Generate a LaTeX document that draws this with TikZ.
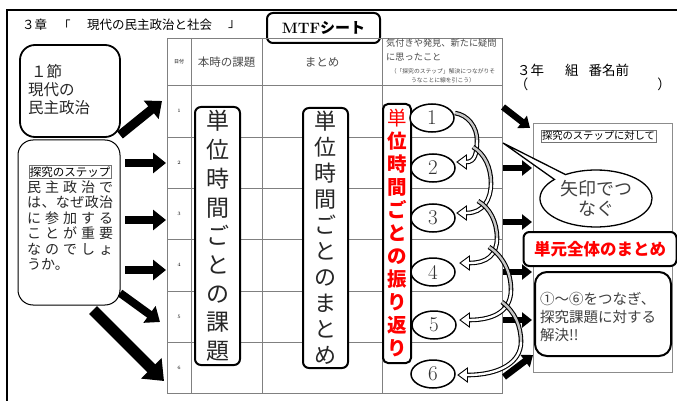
\documentclass[tikz,border=0pt]{standalone}
\usepackage{fontspec}
\newfontfamily\jp{Noto Sans CJK JP}
\usetikzlibrary{arrows.meta,shapes.geometric,shapes.callouts,calc}
\newcommand\ribbonarrow[7]{%
  \fill[white,draw=black,line width=0.9pt] (#7) -- ++(9.5,-7) -- ++(0,14) -- cycle;
  \draw[line width=4.6pt] (#1) .. controls (#2) and (#3) .. (#4) .. controls (#5) and (#6) .. ($(#7)+(9.5,0)$);
  \draw[line width=2.4pt, black!22] (#1) .. controls (#2) and (#3) .. (#4);
  \draw[line width=2.4pt, white] (#4) .. controls (#5) and (#6) .. ($(#7)+(9.5,0)$) -- ($(#7)+(6.5,0)$);
}
\begin{document}
\begin{tikzpicture}[x=1pt,y=-1pt,
  grid/.style={draw=black!50, line width=0.6pt},
  bigarrow/.style={line width=8pt, -{Triangle[length=13pt,width=20pt]}},
  smallarrow/.style={line width=6.5pt, -{Triangle[length=10pt,width=15pt]}},
  tallbox/.style={draw, line width=2pt, rounded corners=6pt, fill=white, inner sep=1pt, align=center},
  numell/.style={ellipse, draw, line width=1.5pt, fill=white, minimum width=44pt, minimum height=28pt, inner sep=0pt, font=\fontsize{21}{21}\selectfont, text=black!80},
  hdr/.style={font=\jp\fontsize{11.5}{13}\selectfont, text=black!70},
  datenum/.style={font=\fontsize{5}{6}\selectfont},
  tagbox/.style={draw=black!55, line width=0.5pt, inner sep=1pt},
  bodyline/.style={anchor=west, inner sep=0pt, font=\jp\fontsize{14}{16}\selectfont, text=black!85}
]
\useasboundingbox (0,0) rectangle (677,401);
\fill[white] (0,0) rectangle (677,401);

% outer frame
\draw[line width=2pt] (7,401) -- (7,10) -- (677,10);

% title
\node[anchor=west, inner sep=0pt, font=\jp\fontsize{12.5}{14}\selectfont] (t1) at (22,25) {３章};
\node[anchor=west, inner sep=0pt, font=\jp\fontsize{12.5}{14}\selectfont] (t2) at (58,25) {「};
\node[anchor=west, inner sep=0pt, font=\jp\fontsize{12.5}{14}\selectfont] (t3) at (87,25) {現代の民主政治と社会};
\node[anchor=west, inner sep=0pt, font=\jp\fontsize{12.5}{14}\selectfont] (t4) at (228,25) {」};

% MTF box
\node[draw, line width=2pt, rounded corners=6pt, fill=white, minimum width=113pt, minimum height=30pt] (mtf) at (323.5,28) {{\fontsize{15}{16}\selectfont\bfseries MTF}{\jp\bfseries\fontsize{15}{16}\selectfont シート}};

% table
\draw[grid] (167,38) rectangle (502,393);
\foreach \xx in {191,262,382} \draw[grid] (\xx,38) -- (\xx,393);
\foreach \yy in {85,137,188,239,291,342} \draw[grid] (167,\yy) -- (502,\yy);

\node[font=\jp\fontsize{5}{6}\selectfont] (hdate) at (179,62) {日付};
\node[hdr] (hkadai) at (226.5,62) {本時の課題};
\node[hdr] (hmatome) at (322,62) {まとめ};
\node[anchor=north west, inner sep=0pt, align=left, font=\jp\fontsize{9.2}{14}\selectfont, text=black!70] (hkizuki) at (386,39) {気付きや発見、新たに疑問\\に思ったこと};
\node[inner sep=0pt, align=center, font=\jp\fontsize{5.8}{9}\selectfont, text=black!70] (hnote) at (443,76) {（「探究のステップ」解決につながりそ\\うなことに線を引こう）};

\node[datenum] (d1) at (179,111) {1};
\node[datenum] (d2) at (179,162.5) {2};
\node[datenum] (d3) at (179,213.5) {3};
\node[datenum] (d4) at (179,265) {4};
\node[datenum] (d5) at (179,316.5) {5};
\node[datenum] (d6) at (179,367.5) {6};

% left boxes
\node[draw, line width=1.8pt, rounded corners=15pt, fill=white, minimum width=100pt, minimum height=92pt] (sec) at (70,91) {};
\node[anchor=west, inner sep=0pt, align=left, font=\jp\fontsize{15.5}{18}\selectfont, text=black!85] (sectxt) at (28,90) {\hspace{3pt}１節\\現代の\\民主政治};

\node[draw, line width=1pt, rounded corners=15pt, fill=white, minimum width=102pt, minimum height=165pt] (step) at (69,222.5) {};
\node[tagbox, font=\jp\fontsize{11.5}{13}\selectfont] (steplabel) at (70,172) {探究のステップ};
\node[bodyline] (b1) at (27,187) {\makebox[86pt][s]{民\hfill 主\hfill 政\hfill 治\hfill で}};
\node[bodyline] (b2) at (27,202.5) {\makebox[86pt][s]{は\hfill 、\hfill な\hfill ぜ\hfill 政\hfill 治}};
\node[bodyline] (b3) at (27,218) {\makebox[86pt][s]{に\hfill 参\hfill 加\hfill す\hfill る}};
\node[bodyline] (b4) at (27,233.5) {\makebox[86pt][s]{こ\hfill と\hfill が\hfill 重\hfill 要}};
\node[bodyline] (b5) at (27,249) {\makebox[86pt][s]{な\hfill の\hfill で\hfill し\hfill ょ}};
\node[bodyline] (b6) at (27,264.5) {うか。};

% left arrows
\coordinate (la1s) at (120,135); \coordinate (la1e) at (162,101);
\coordinate (la2s) at (125,163); \coordinate (la2e) at (166,163);
\coordinate (la3s) at (125,220); \coordinate (la3e) at (166,220);
\coordinate (la4s) at (125,270); \coordinate (la4e) at (166,270);
\coordinate (la5s) at (120,293); \coordinate (la5e) at (160,322);
\coordinate (la6s) at (93,310);  \coordinate (la6e) at (164,381);
\draw[bigarrow, line width=9pt, -{Triangle[length=14pt,width=23pt]}] (la1s) -- (la1e);
\draw[bigarrow] (la2s) -- (la2e);
\draw[bigarrow] (la3s) -- (la3e);
\draw[bigarrow] (la4s) -- (la4e);
\draw[bigarrow] (la5s) -- (la5e);
\draw[bigarrow, line width=11pt, -{Triangle[length=18pt,width=28pt]}] (la6s) -- (la6e);

% tall boxes
\node[tallbox, minimum width=45pt, minimum height=258pt, font=\jp\fontsize{23}{28.7}\selectfont, text=black!85] (kadai) at (217.5,236) {単\\位\\時\\間\\ご\\と\\の\\課\\題};
\node[tallbox, minimum width=45pt, minimum height=260pt, font=\jp\fontsize{22}{26}\selectfont, text=black!85] (matome) at (325.5,238) {単\\位\\時\\間\\ご\\と\\の\\ま\\と\\め};
\node[tallbox, minimum width=28pt, minimum height=259pt, rounded corners=5pt, font=\jp\bfseries\fontsize{19.5}{23}\selectfont, text=red] (furi) at (397,233.5) {{\mdseries 単}\\位\\時\\間\\ご\\と\\の\\振\\り\\返\\り};

% right arrows
\coordinate (ra1s) at (503,107); \coordinate (ra1e) at (530,128);
\coordinate (ra2s) at (503,168); \coordinate (ra2e) at (532,168);
\coordinate (ra3s) at (503,222); \coordinate (ra3e) at (532,222);
\coordinate (ra4s) at (503,272); \coordinate (ra4e) at (532,272);
\coordinate (ra5s) at (503,320); \coordinate (ra5e) at (532,320);
\coordinate (ra6s) at (504,377); \coordinate (ra6e) at (533,355);
\foreach \i in {1,...,6} \draw[smallarrow] (ra\i s) -- (ra\i e);

% ellipses
\node[numell] (e1) at (432,118) {1};
\node[numell] (e2) at (433,168) {2};
\node[numell] (e3) at (433,218) {3};
\node[numell] (e4) at (433,272) {4};
\node[numell] (e5) at (434,325) {5};
\node[numell] (e6) at (433,374) {6};

% curved ribbon arrows
\coordinate (r1s) at (455,113); \coordinate (r1e) at (457,162);
\coordinate (r2s) at (473,147); \coordinate (r2e) at (457,213);
\coordinate (r3s) at (478,201); \coordinate (r3e) at (460,263);
\coordinate (r4s) at (489,247); \coordinate (r4e) at (460,320);
\coordinate (r5s) at (502,302); \coordinate (r5e) at (458,375);
\ribbonarrow{r1s}{468,115}{477,127}{477,140}{477,153}{475,162}{r1e}
\ribbonarrow{r2s}{485,154}{491,168}{491,183}{491,200}{483,213}{r2e}
\ribbonarrow{r3s}{490,208}{497,222}{497,238}{497,255}{487,263}{r3e}
\ribbonarrow{r4s}{503,256}{511,272}{511,290}{511,310}{495,320}{r4e}
\ribbonarrow{r5s}{515,312}{521,326}{521,342}{521,362}{500,375}{r5e}

% right side
\node[anchor=west, inner sep=0pt, font=\jp\fontsize{13.5}{15}\selectfont] (name) at (517,70) {３年\hspace{21pt}組\hspace{10pt}番名前};
\node[inner sep=0pt, font=\jp\fontsize{13.5}{15}\selectfont] (pl) at (521.5,84) {（};
\node[inner sep=0pt, font=\jp\fontsize{13.5}{15}\selectfont] (pr) at (664,84) {）};

\node[draw=black!45, line width=0.6pt, minimum width=139pt, minimum height=249pt] (rrect) at (602.5,247.5) {};
\node[tagbox, font=\jp\fontsize{10.3}{12}\selectfont] (rlabel) at (598.5,136) {探究のステップに対して};

\coordinate (tip) at (503,143);
\node[ellipse callout, draw, line width=1.3pt, fill=white, minimum width=112pt, minimum height=57pt, inner sep=0pt, callout absolute pointer={(tip)}, align=center, font=\jp\fontsize{18}{20}\selectfont, text=black!75] (bubble) at (596,198.5) {矢印でつ\\なぐ};

\node[draw, line width=2pt, rounded corners=6pt, fill=white, minimum width=153pt, minimum height=34pt, font=\jp\bfseries\fontsize{16.5}{18}\selectfont, text=red] (unit) at (600,249) {単元全体のまとめ};

\node[draw, line width=2pt, rounded corners=12pt, fill=white, minimum width=136pt, minimum height=84pt] (sol) at (603,314) {};
\node[anchor=west, inner sep=0pt, align=left, font=\jp\fontsize{14.5}{18}\selectfont, text=black!75] (soltxt) at (540,317) {①～⑥をつなぎ、\\探究課題に対する\\解決!!};
\end{tikzpicture}
\end{document}
